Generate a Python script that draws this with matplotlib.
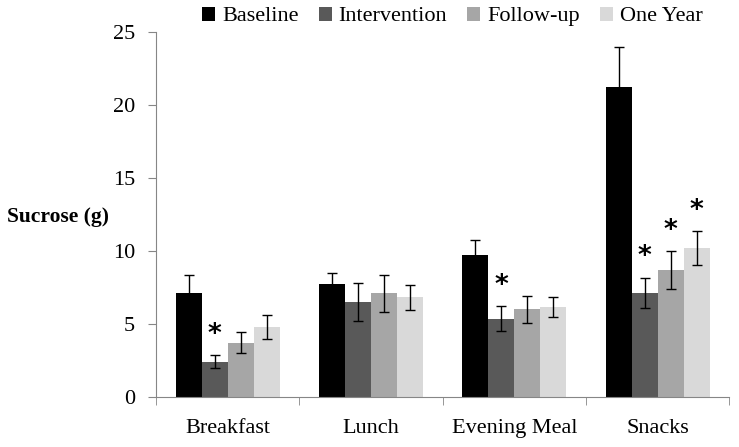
import numpy as np
import matplotlib
matplotlib.use("Agg")
import matplotlib.pyplot as plt
from matplotlib.patches import Patch

plt.rcParams['font.family'] = ['Liberation Serif', 'DejaVu Serif']

meals = ['Breakfast', 'Lunch', 'Evening Meal', 'Snacks']
series = ['Baseline', 'Intervention', 'Follow-up', 'One Year']
colors = ['#000000', '#595959', '#a6a6a6', '#d9d9d9']

baseline = [7.09, 7.75, 9.70, 21.24]
baseline_err = [1.24, 0.76, 1.05, 2.74]
intervention = [2.40, 6.52, 5.35, 7.13]
intervention_err = [0.46, 1.30, 0.87, 1.03]
followup = [3.70, 7.09, 5.99, 8.69]
followup_err = [0.72, 1.26, 0.94, 1.30]
oneyear = [4.78, 6.82, 6.13, 10.20]
oneyear_err = [0.85, 0.86, 0.69, 1.16]

# significant marks: (series index, meal index)
signif = [(1, 0), (1, 2), (1, 3), (2, 3), (3, 3)]

values = [baseline, intervention, followup, oneyear]
errors = [baseline_err, intervention_err, followup_err, oneyear_err]

fig = plt.figure(figsize=(7.39, 4.47), dpi=100)
ax = fig.add_axes([0.211, 0.1125, 0.776, 0.8155])

x = np.arange(len(meals))
w = 0.181
for i, (vals, errs) in enumerate(zip(values, errors)):
    pos = x + (i - 1.5) * w
    ax.bar(pos, vals, w, color=colors[i], label=series[i], zorder=2)
    ax.errorbar(pos, vals, yerr=errs, fmt='none', ecolor='black',
                elinewidth=1, capsize=3.5, capthick=1, zorder=3)

for s, m in signif:
    xp = x[m] + (s - 1.5) * w
    yp = values[s][m] + errors[s][m] + 1.4
    ax.text(xp, yp, '*', ha='center', va='center', fontsize=19,
            fontweight='bold', family='DejaVu Sans')

ax.set_xlim(-0.5, 3.5)
ax.set_ylim(0, 25)
ax.set_yticks([0, 5, 10, 15, 20, 25])
ax.set_xticks(x)
ax.set_xticklabels(meals)
ax.set_xticks([-0.5, 0.5, 1.5, 2.5, 3.5], minor=True)
ax.tick_params(axis='x', which='major', length=0, pad=16, labelsize=16)
ax.tick_params(axis='x', which='minor', length=6, color='#868686', direction='out')
ax.tick_params(axis='y', length=6, color='#868686', labelsize=16, pad=9)

for sp in ['top', 'right']:
    ax.spines[sp].set_visible(False)
ax.spines['left'].set_color('#868686')
ax.spines['bottom'].set_color('#868686')

fig.text(0.009, 0.515, 'Sucrose (g)', fontsize=15.5, fontweight='bold',
         ha='left', va='center')

handles = [Patch(facecolor=c) for c in colors]
fig.legend(handles, series, loc='center', bbox_to_anchor=(0.612, 0.963),
           ncol=4, frameon=False, fontsize=16, handlelength=0.6,
           handleheight=0.6, handletextpad=0.3, columnspacing=0.9)

fig.savefig('out.png', dpi=100)
